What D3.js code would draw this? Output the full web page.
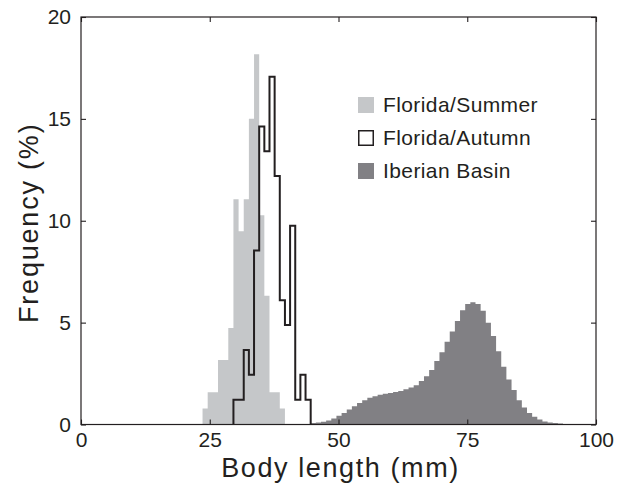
<!DOCTYPE html>
<html>
<head>
<meta charset="utf-8">
<script src="https://cdn.jsdelivr.net/npm/d3@7"></script>
<style>
  html, body { margin: 0; padding: 0; background: #ffffff; }
  svg { display: block; }
  text { font-family: "Liberation Sans", Arial, Helvetica, sans-serif; fill: #231f20; }
</style>
</head>
<body>
<svg id="chart" width="626" height="494"></svg>
<script>
// ---------- data ----------
const binWidth = 1; // mm
const summerBinStarts = [23.6, 24.6, 25.6, 26.6, 27.6, 28.6, 29.6, 30.6, 31.6, 32.6, 33.6, 34.6, 35.6, 36.6, 37.6, 38.6];
const summerValues    = [0.79, 1.58, 1.58, 3.16, 3.16, 4.74, 11.06, 9.48, 11.06, 15.01, 18.17, 10.27, 6.32, 1.58, 1.58, 0.79];

const autumnBinStarts = [29.6, 30.6, 31.6, 32.6, 33.6, 34.6, 35.6, 36.6, 37.6, 38.6, 39.6, 40.6, 41.6, 42.6, 43.6];
const autumnValues    = [1.22, 1.22, 3.66, 2.44, 8.54, 14.63, 13.41, 17.07, 12.2, 6.1, 4.88, 9.76, 1.22, 2.44, 1.22];

const iberianBinStarts = [43.6, 44.6, 45.6, 46.6, 47.6, 48.6, 49.6, 50.6, 51.6, 52.6, 53.6, 54.6, 55.6, 56.6, 57.6, 58.6, 59.6,
  60.6, 61.6, 62.6, 63.6, 64.6, 65.6, 66.6, 67.6, 68.6, 69.6, 70.6, 71.6, 72.6, 73.6, 74.6, 75.6, 76.6, 77.6, 78.6, 79.6,
  80.6, 81.6, 82.6, 83.6, 84.6, 85.6, 86.6, 87.6, 88.6, 89.6, 90.6, 91.6, 92.6, 93.6, 94.6, 95.6];
const iberianValues = [0.03, 0.07, 0.10, 0.13, 0.20, 0.30, 0.43, 0.57, 0.74, 0.90, 1.06, 1.19, 1.31, 1.39, 1.46, 1.51, 1.54,
  1.59, 1.65, 1.73, 1.82, 1.93, 2.14, 2.37, 2.67, 3.12, 3.54, 4.06, 4.56, 5.08, 5.61, 5.91, 6.00, 5.91, 5.58, 5.00, 4.34,
  3.60, 2.83, 2.21, 1.69, 1.19, 0.83, 0.57, 0.38, 0.25, 0.15, 0.10, 0.07, 0.05, 0.03, 0.02, 0.01];

const xTicks = [0, 25, 50, 75, 100];
const yTicks = [0, 5, 10, 15, 20];
const legendLabels = ["Florida/Summer", "Florida/Autumn", "Iberian Basin"];
const xLabel = "Body length (mm)";
const yLabel = "Frequency (%)";

// ---------- styles ----------
const inkColor = "#231f20";
const summerColor = "#c5c7c9";
const iberianColor = "#818084";
const tickFont = "21px";
const labelFont = "27px";
const legendFont = "21px";

// ---------- layout ----------
const plot = { left: 81, right: 596, top: 17, bottom: 424.5 };
const svg = d3.select("#chart");

const x = d3.scaleLinear().domain([0, 100]).range([plot.left, plot.right]);
const y = d3.scaleLinear().domain([0, 20]).range([plot.bottom, plot.top]);

function stepPoints(starts, values) {
  const pts = [];
  starts.forEach((s, i) => pts.push([s, values[i]]));
  const last = starts[starts.length - 1] + binWidth;
  pts.push([last, 0]);
  return pts;
}

const area = d3.area()
  .x(d => x(d[0]))
  .y0(y(0))
  .y1(d => y(d[1]))
  .curve(d3.curveStepAfter);

// filled histograms
svg.append("path")
  .attr("d", area(stepPoints(summerBinStarts, summerValues)))
  .attr("fill", summerColor);

svg.append("path")
  .attr("d", area(stepPoints(iberianBinStarts, iberianValues)))
  .attr("fill", iberianColor);

// outline histogram (stairs)
const outlinePts = [[autumnBinStarts[0], 0]];
autumnBinStarts.forEach((s, i) => {
  outlinePts.push([s, autumnValues[i]]);
  outlinePts.push([s + binWidth, autumnValues[i]]);
});
outlinePts.push([autumnBinStarts[autumnBinStarts.length - 1] + binWidth, 0]);

svg.append("path")
  .attr("d", d3.line().x(d => x(d[0])).y(d => y(d[1]))(outlinePts))
  .attr("fill", "none")
  .attr("stroke", inkColor)
  .attr("stroke-width", 2)
  .attr("stroke-linejoin", "miter");

// ---------- axes ----------
const tickLen = 5;
const axisBottom = d3.axisBottom(x).tickValues(xTicks).tickSizeInner(-tickLen).tickSizeOuter(0).tickPadding(8);
const axisLeft = d3.axisLeft(y).tickValues(yTicks).tickSizeInner(-tickLen).tickSizeOuter(0).tickPadding(10);
const axisTop = d3.axisTop(x).tickValues(xTicks).tickSizeInner(-tickLen).tickSizeOuter(0).tickFormat("");
const axisRight = d3.axisRight(y).tickValues(yTicks).tickSizeInner(-tickLen).tickSizeOuter(0).tickFormat("");

function styleAxis(g) {
  g.select(".domain").remove();
  g.selectAll(".tick line").attr("stroke", inkColor).attr("stroke-width", 1.1);
  g.selectAll(".tick text").attr("fill", inkColor)
    .style("font-family", "'Liberation Sans', Arial, Helvetica, sans-serif")
    .style("font-size", tickFont);
}

svg.append("g").attr("transform", `translate(0,${plot.bottom})`).call(axisBottom).call(styleAxis);
svg.append("g").attr("transform", `translate(${plot.left},0)`).call(axisLeft).call(styleAxis);
svg.append("g").attr("transform", `translate(0,${plot.top})`).call(axisTop).call(styleAxis);
svg.append("g").attr("transform", `translate(${plot.right},0)`).call(axisRight).call(styleAxis);

// frame
svg.append("rect")
  .attr("x", plot.left).attr("y", plot.top)
  .attr("width", plot.right - plot.left).attr("height", plot.bottom - plot.top)
  .attr("fill", "none").attr("stroke", inkColor).attr("stroke-width", 1.2);

// axis labels
svg.append("text")
  .attr("x", (plot.left + plot.right) / 2 + 2).attr("y", 477)
  .attr("text-anchor", "middle")
  .style("font-size", labelFont)
  .style("letter-spacing", "1.6px")
  .text(xLabel);

svg.append("text")
  .attr("transform", `translate(38,${(plot.top + plot.bottom) / 2 + 2}) rotate(-90)`)
  .attr("text-anchor", "middle")
  .style("font-size", labelFont)
  .style("letter-spacing", "1.8px")
  .text(yLabel);

// legend
const legendX = 358, legendY0 = 97, legendStep = 33, sw = 16;
const legendFill = [summerColor, "#ffffff", iberianColor];
const legendStroke = ["none", inkColor, "none"];
const lg = svg.append("g");
legendLabels.forEach((lab, i) => {
  const yy = legendY0 + i * legendStep;
  lg.append("rect")
    .attr("x", legendX + (i === 1 ? 0.75 : 0)).attr("y", yy + (i === 1 ? 0.75 : 0))
    .attr("width", sw - (i === 1 ? 1.5 : 0)).attr("height", sw - (i === 1 ? 1.5 : 0))
    .attr("fill", legendFill[i])
    .attr("stroke", legendStroke[i]).attr("stroke-width", 1.5);
  lg.append("text")
    .attr("x", legendX + 25).attr("y", yy + sw / 2)
    .attr("dy", "0.35em")
    .style("font-size", legendFont)
    .style("letter-spacing", "0.4px")
    .text(lab);
});
</script>
</body>
</html>
